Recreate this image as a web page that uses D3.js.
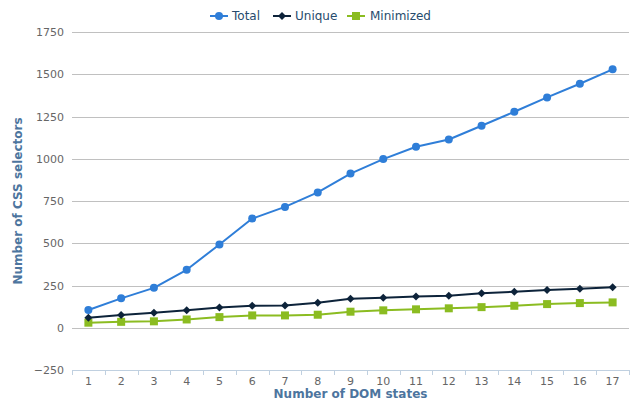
<!DOCTYPE html>
<html><head><meta charset="utf-8">
<script src="https://cdn.jsdelivr.net/npm/d3@7"></script>
<style>body{margin:0;background:#fff}svg{display:block}text{font-family:"DejaVu Sans",Verdana,Arial,sans-serif}</style>
</head><body><svg id="c" width="632" height="404"></svg>
<script>
const categories = [1,2,3,4,5,6,7,8,9,10,11,12,13,14,15,16,17];
const total = [105,174,236,343,493,646,715,801,912,998,1071,1114,1195,1278,1363,1444,1529];
const unique = [59,75,89,103,120,130,132,148,172,178,185,190,204,213,223,231,239];
const minimized = [30,35,38,49,63,73,73,77,95,103,109,115,122,130,140,146,150];
const yTicks = [-250,0,250,500,750,1000,1250,1500,1750];
const seriesNames = ["Total","Unique","Minimized"];
const colors = ["#2f7ed8","#0d233a","#8bbc21"];

const svg = d3.select("#c");
const L=72, R=629, T=32, B=370;
const x = d3.scaleBand().domain(categories).range([L,R]);
const y = d3.scaleLinear().domain([-250,1750]).range([B,T]);

svg.append("g").selectAll("line").data(yTicks).join("line")
  .attr("x1",L).attr("x2",R).attr("y1",d=>Math.round(y(d))+0.5).attr("y2",d=>Math.round(y(d))+0.5)
  .attr("stroke",d=>d===-250?"#C0D0E0":"#C0C0C0").attr("stroke-width",1);

svg.append("g").selectAll("text").data(yTicks).join("text")
  .attr("x",64).attr("y",d=>y(d)+4).attr("text-anchor","end")
  .attr("font-size",11).attr("fill","#666").text(d=>d<0?"−"+Math.abs(d):d);

const bounds = categories.map(c=>x(c)).concat([R]);
svg.append("g").selectAll("line").data(bounds).join("line")
  .attr("x1",d=>Math.round(d)+0.5).attr("x2",d=>Math.round(d)+0.5).attr("y1",B).attr("y2",B+5)
  .attr("stroke","#C0D0E0");
svg.append("g").selectAll("text").data(categories).join("text")
  .attr("x",d=>x(d)+x.bandwidth()/2).attr("y",B+15).attr("text-anchor","middle")
  .attr("font-size",11).attr("fill","#666").text(d=>d);

svg.append("text").attr("x",(L+R)/2).attr("y",398).attr("text-anchor","middle")
  .attr("font-size",12).attr("font-weight","bold").attr("fill","#4d759e").text("Number of DOM states");
svg.append("text").attr("transform",`translate(22,${(T+B)/2}) rotate(-90)`).attr("text-anchor","middle")
  .attr("font-size",12).attr("font-weight","bold").attr("fill","#4d759e").text("Number of CSS selectors");

const cx = d=>x(d)+x.bandwidth()/2;
const data = [total,unique,minimized];
const diamond = {draw(ctx,size){const r=4;ctx.moveTo(0,-r);ctx.lineTo(r,0);ctx.lineTo(0,r);ctx.lineTo(-r,0);ctx.closePath();}};
const symbols = [d3.symbolCircle,diamond,d3.symbolSquare];
const symSizes = [Math.PI*16, 32, 64];
const line = d3.line().x((d,i)=>cx(categories[i])).y(d=>y(d));

[2,1,0].forEach(k=>{
  const g = svg.append("g");
  g.append("path").attr("d",line(data[k])).attr("fill","none").attr("stroke",colors[k]).attr("stroke-width",2)
    .attr("stroke-linejoin","round");
  g.selectAll("path.m").data(data[k]).join("path").attr("class","m")
    .attr("transform",(d,i)=>`translate(${cx(categories[i])},${y(d)})`)
    .attr("d",d3.symbol().type(symbols[k]).size(symSizes[k])).attr("fill",colors[k]);
});

const leg = [{lx:210,tx:232},{lx:273,tx:295},{lx:347,tx:370}];
leg.forEach((p,k)=>{
  const g = svg.append("g");
  g.append("line").attr("x1",p.lx).attr("x2",p.lx+18).attr("y1",16).attr("y2",16).attr("stroke",colors[k]).attr("stroke-width",2);
  g.append("path").attr("transform",`translate(${p.lx+9},16)`).attr("d",d3.symbol().type(symbols[k]).size(symSizes[k])).attr("fill",colors[k]);
  g.append("text").attr("x",p.tx).attr("y",20).attr("font-size",12).attr("fill","#274b6d").text(seriesNames[k]);
});
</script></body></html>
